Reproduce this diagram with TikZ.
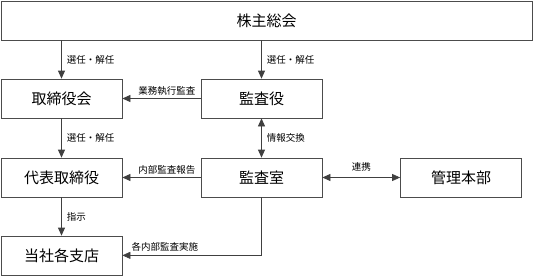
\documentclass[tikz,border=0pt]{standalone}
\usepackage{fontspec}
\setmainfont{Noto Sans CJK JP}
\usetikzlibrary{arrows.meta,positioning,calc}
\tikzset{
  orgbox/.style={draw=black!70, line width=0.7pt, minimum width=121pt, minimum height=39pt, font=\fontsize{15}{17}\selectfont, inner sep=0pt},
  link/.style={draw=black!75, line width=0.7pt, -{Triangle[length=8pt,width=7pt]}},
  tag/.style={font=\fontsize{9.5}{11}\selectfont, inner sep=1pt}
}

\begin{document}
\begin{tikzpicture}[x=1pt,y=-1pt]
\useasboundingbox (0,0) rectangle (533,276);
\node[orgbox, minimum width=531pt] (soukai) at (266.5,20.5) {株主総会};
\node[orgbox] (torishimari) at (61.5,98.5) {取締役会};
\node[orgbox] (kansayaku) at (261.5,98.5) {監査役};
\node[orgbox] (daihyo) at (61.5,177.5) {代表取締役};
\node[orgbox] (kansashitsu) at (261.5,177.5) {監査室};
\node[orgbox] (kanri) at (461,177.5) {管理本部};
\node[orgbox] (shiten) at (61.5,255.5) {当社各支店};
% vertical arrows
\draw[link] (soukai.south -| torishimari) -- node[tag, right=4pt] {選任・解任} (torishimari);
\draw[link] (soukai.south -| kansayaku) -- node[tag, right=4pt] {選任・解任} (kansayaku);
\draw[link] (torishimari) -- node[tag, right=4pt] {選任・解任} (daihyo);
\draw[link, {Triangle[length=8pt,width=7pt]}-{Triangle[length=8pt,width=7pt]}] (kansayaku) -- node[tag, right=4pt] {情報交換} (kansashitsu);
\draw[link] (daihyo) -- node[tag, right=4pt] {指示} (shiten);
% horizontal arrows
\draw[link] (kansayaku) -- (torishimari);
\node[tag, above left=2pt and 4pt] at (kansayaku.west) {業務執行監査};
\draw[link] (kansashitsu) -- (daihyo);
\node[tag, above left=2pt and 4pt] at (kansashitsu.west) {内部監査報告};
\draw[link, {Triangle[length=8pt,width=7pt]}-{Triangle[length=8pt,width=7pt]}] (kansashitsu) -- node[tag, above=5pt] {連携} (kanri);
\coordinate (corner) at ($(kansashitsu.south)+(0,58)$);
\draw[link] (kansashitsu.south) -- (corner) -- (corner -| shiten.east);
\node[tag, above right=3pt and 8pt] at (corner -| shiten.east) {各内部監査実施};
\end{tikzpicture}
\end{document}
